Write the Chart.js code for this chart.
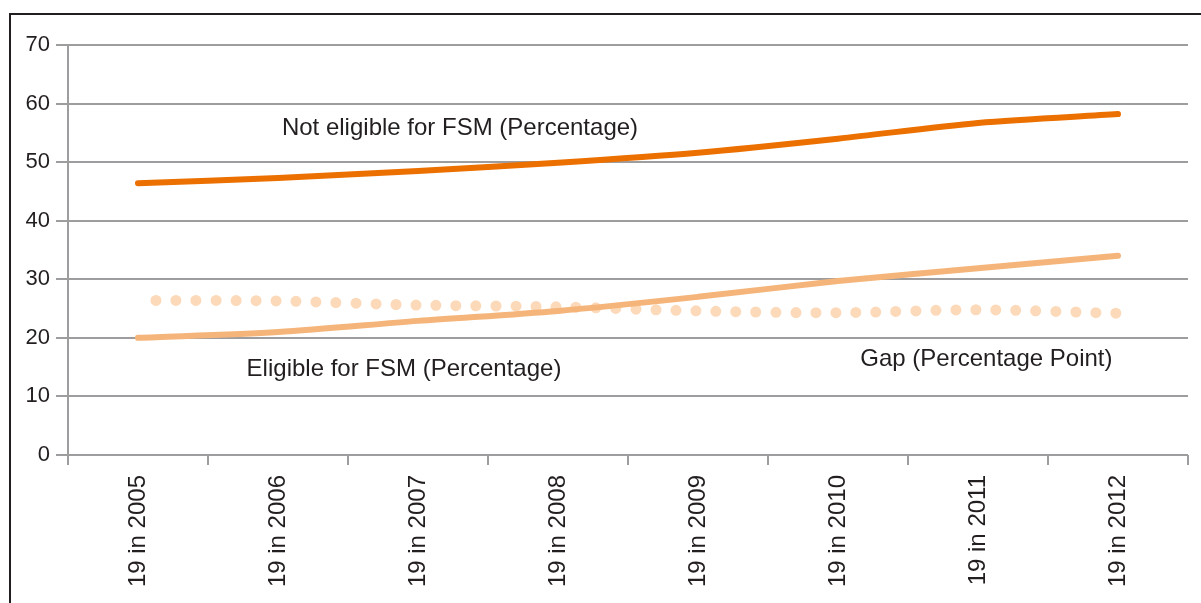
<!DOCTYPE html>
<html>
<head>
<meta charset="utf-8">
<script src="https://cdn.jsdelivr.net/npm/chart.js@4.4.1/dist/chart.umd.min.js"></script>
<style>
  body { margin: 0; background: #fff; }
  #wrap { position: relative; width: 1201px; height: 603px; }
  #frame { position: absolute; left: 9px; top: 13px; width: 1200px; height: 600px;
           border-top: 2px solid #231f20; border-left: 2px solid #231f20; pointer-events: none; }
  #grafico { position: absolute; left: 0; top: 0; }
</style>
</head>
<body>
<div id="wrap">
  <canvas id="grafico" width="1201" height="603"></canvas>
  <div id="frame"></div>
</div>
<script>
const anos = ['19 in 2005', '19 in 2006', '19 in 2007', '19 in 2008', '19 in 2009', '19 in 2010', '19 in 2011', '19 in 2012'];
const naoElegivel = [46.4, 47.3, 48.5, 49.9, 51.6, 54.0, 56.7, 58.2];
const elegivel = [20.0, 21.0, 22.9, 24.6, 27.0, 29.7, 31.9, 34.0];
const diferenca = [26.4, 26.3, 25.6, 25.3, 24.6, 24.3, 24.8, 24.2];

// rotulos escritos direto no grafico (posicao em unidades do eixo)
const notas = ['Not eligible for FSM (Percentage)', 'Eligible for FSM (Percentage)', 'Gap (Percentage Point)'];
const notasX = [2.3, 1.9, 6.06];
const notasY = [55.8, 14.7, 16.4];

const corTexto = '#231f20';
const corGrade = '#9d9d9f';
const familia = '"Liberation Sans", Arial, sans-serif';
const fonteY = { family: familia, size: 22 };
const fonte = { family: familia, size: 24 };

const pluginNotas = {
    id: 'notas',
    afterDatasetsDraw(chart) {
        const ctx = chart.ctx;
        const x = chart.scales.x, y = chart.scales.y;
        ctx.save();
        ctx.font = fonte.size + 'px ' + fonte.family;
        ctx.fillStyle = corTexto;
        ctx.textAlign = 'center';
        ctx.textBaseline = 'middle';
        notas.forEach((t, i) => {
            ctx.fillText(t, x.getPixelForValue(notasX[i]), y.getPixelForValue(notasY[i]));
        });
        ctx.restore();
    }
};

const ctx = document.getElementById('grafico').getContext('2d');
new Chart(ctx, {
    type: 'line',
    data: {
        labels: anos,
        datasets: [
            {
                label: 'Not eligible for FSM (Percentage)',
                data: naoElegivel,
                borderColor: '#ec7000',
                borderWidth: 6,
                borderCapStyle: 'round',
                pointRadius: 0,
                tension: 0.3,
            },
            {
                label: 'Eligible for FSM (Percentage)',
                data: elegivel,
                borderColor: '#f5b57a',
                borderWidth: 6,
                borderCapStyle: 'round',
                pointRadius: 0,
                tension: 0.3,
            },
            {
                label: 'Gap (Percentage Point)',
                data: diferenca,
                borderColor: '#fbd9b9',
                borderWidth: 11,
                borderCapStyle: 'round',
                borderDash: [0, 20],
                borderDashOffset: 2,
                pointRadius: 0,
                tension: 0.3,
            },
        ],
    },
    options: {
        responsive: false,
        animation: false,
        layout: { padding: { top: 45, right: 13, left: 0, bottom: 0 } },
        plugins: { legend: { display: false }, tooltip: { enabled: false } },
        scales: {
            x: {
                offset: true,
                grid: { offset: true, drawOnChartArea: false, drawTicks: true, tickLength: 10, color: corGrade, lineWidth: 2 },
                border: { display: false },
                ticks: { color: corTexto, font: fonte, minRotation: 90, maxRotation: 90, padding: 10, autoSkip: false },
                afterFit(scale) { scale.height = 148; },
            },
            y: {
                min: 0,
                max: 70,
                grid: { color: corGrade, lineWidth: 2, tickLength: 12 },
                border: { display: true, color: corGrade, width: 2 },
                ticks: { stepSize: 10, color: corTexto, font: fonteY, padding: 6 },
                afterFit(scale) { scale.width = 68; },
            },
        },
    },
    plugins: [pluginNotas],
});
</script>
</body>
</html>
